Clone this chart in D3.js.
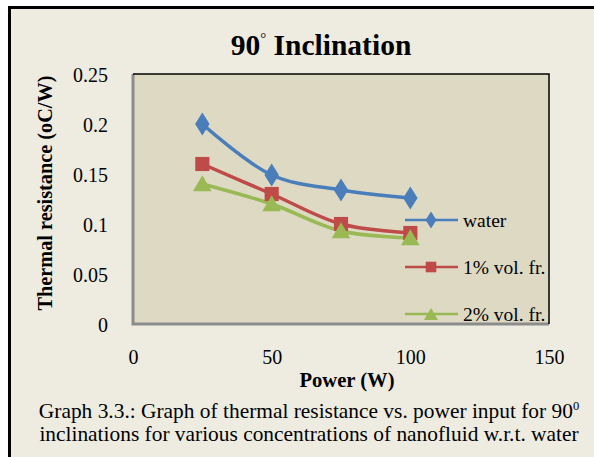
<!DOCTYPE html>
<html><head><meta charset="utf-8">
<script src="https://cdn.jsdelivr.net/npm/d3@7"></script>
<style>body{margin:0;background:#fff}svg{display:block}text{font-family:"Liberation Serif","Times New Roman",serif;fill:#000}</style>
</head><body><svg id="c" width="594" height="457"></svg>
<script>
const powers = [25, 50, 75, 100];
const water = [0.2, 0.149, 0.134, 0.126];
const vol1 = [0.16, 0.13, 0.1, 0.091];
const vol2 = [0.14, 0.12, 0.093, 0.086];
const seriesNames = ["water", "1% vol. fr.", "2% vol. fr."];
const seriesColors = ["#4a7ebb", "#be4b48", "#98b954"];
const yTicks = [0, 0.05, 0.1, 0.15, 0.2, 0.25];
const xTicks = [0, 50, 100, 150];

const svg = d3.select("#c");
svg.append("rect").attr("x", 9).attr("y", 7).attr("width", 600).attr("height", 460).attr("fill", "#eeece1");
svg.append("path").attr("d", "M9.5,470 V7.5 H600").attr("fill", "none").attr("stroke", "#000").attr("stroke-width", 3);

const L = 133, R = 549, T = 74, B = 324;
const x = d3.scaleLinear().domain([0, 150]).range([L, R]);
const y = d3.scaleLinear().domain([0, 0.25]).range([B, T]);

svg.append("rect").attr("x", L).attr("y", T).attr("width", R - L).attr("height", B - T).attr("fill", "#ddd9c3");
svg.append("path").attr("d", `M${L},${T} V${B} H${R}`).attr("fill", "none").attr("stroke", "#8c8c8c").attr("stroke-width", 3);
svg.append("path").attr("d", `M${L},${T} H${R} V${B}`).attr("fill", "none").attr("stroke", "#000").attr("stroke-width", 1.5);

const tt = svg.append("text").attr("x", 321).attr("y", 55).attr("text-anchor", "middle")
  .style("font-size", "29.5px").style("font-weight", "bold");
tt.append("tspan").text("90");
tt.append("tspan").attr("dy", -12).style("font-size", "15px").style("font-weight", "normal").text("°");
tt.append("tspan").attr("dy", 12).text(" Inclination");

const yAxis = d3.axisLeft(y).tickValues(yTicks).tickSize(0).tickPadding(0).tickFormat(d => d3.format("")(d));
const gy = svg.append("g").attr("transform", `translate(108,0)`).call(yAxis);
gy.select(".domain").remove();
gy.selectAll("text").style("font-size", "20px").attr("dy", "0.35em");

const xAxis = d3.axisBottom(x).tickValues(xTicks).tickSize(0).tickPadding(0);
const gx = svg.append("g").attr("transform", `translate(0,357)`).call(xAxis);
gx.select(".domain").remove();
gx.selectAll("text").style("font-size", "20px").attr("dy", "0.35em");

svg.append("text").attr("x", 347).attr("y", 387).attr("text-anchor", "middle")
  .style("font-size", "20.6px").style("font-weight", "bold").text("Power (W)");
svg.append("text").attr("transform", "translate(52,193) rotate(-90)").attr("text-anchor", "middle")
  .style("font-size", "20.3px").style("font-weight", "bold").text("Thermal resistance (oC/W)");

const data = [water, vol1, vol2];
const line = d3.line().x((d, i) => x(powers[i])).y(d => y(d)).curve(d3.curveCatmullRom.alpha(0.5));
const symbols = [d3.symbolDiamond, d3.symbolSquare, d3.symbolTriangle];
const sizes = [150, 200, 150];

function marker(g, k, cx, cy, scale) {
  const sym = d3.symbol().type(symbols[k]).size(sizes[k] * scale * scale);
  return g.append("path").attr("d", sym()).attr("fill", seriesColors[k])
    .attr("transform", `translate(${cx},${cy + (k === 2 ? 2 : 0)})` + (k === 0 ? " scale(1.1,1)" : ""));
}

data.forEach((vals, k) => {
  svg.append("path").attr("d", line(vals)).attr("fill", "none").attr("stroke", seriesColors[k])
    .attr("stroke-width", 3.5).attr("stroke-linejoin", "round");
});
data.forEach((vals, k) => {
  vals.forEach((v, i) => marker(svg, k, x(powers[i]), y(v), 1));
});

const legY = [220, 267, 314];
seriesNames.forEach((n, k) => {
  svg.append("line").attr("x1", 405).attr("x2", 458).attr("y1", legY[k]).attr("y2", legY[k])
    .attr("stroke", seriesColors[k]).attr("stroke-width", 2.5);
  marker(svg, k, 431, legY[k], 0.75);
  svg.append("text").attr("x", 463).attr("y", legY[k]).attr("dy", "0.35em").style("font-size", "19.5px").text(n);
});

const c1 = svg.append("text").attr("x", 309).attr("y", 418).attr("text-anchor", "middle").style("font-size", "21.4px");
c1.append("tspan").text("Graph 3.3.: Graph of thermal resistance vs. power input for 90");
c1.append("tspan").attr("dy", -8).style("font-size", "12.5px").text("0");
svg.append("text").attr("x", 309).attr("y", 441).attr("text-anchor", "middle").style("font-size", "21.4px")
  .text("inclinations for various concentrations of nanofluid w.r.t. water");
</script></body></html>
